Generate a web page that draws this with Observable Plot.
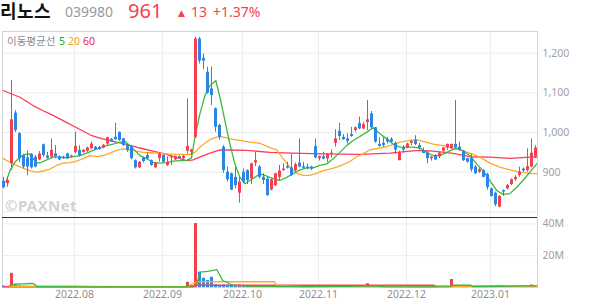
<!DOCTYPE html>
<html><head><meta charset="utf-8">
<script src="https://cdn.jsdelivr.net/npm/d3@7"></script>
<script src="https://cdn.jsdelivr.net/npm/@observablehq/plot@0.6"></script>
<style>
body{margin:0;background:#fff;}
#wrap{position:relative;width:594px;height:304px;overflow:hidden;font-family:"Noto Sans","Noto Sans CJK KR",sans-serif;}
#price,#vol,#over{position:absolute;left:0;}
#price{top:31px}
#vol{top:217px}
#over{top:0;pointer-events:none}
</style></head><body>
<div id="wrap"><div id="price"></div><div id="vol"></div><svg id="over" width="594" height="304"></svg></div>
<script>
// ---- data (index = trading day, 2022-07-06 .. 2023-01-17) ----
const open  = [877,871,921,1049,997,942,936,945,938,931,969,941,938,946,939,938,946,938,950,955,950,953,959,963,963,961,971,983,988,1000,984,967,965,929,911,935,942,929,911,934,942,917,936,931,939,934,953,950,988,1236,1187,1152,1110,1060,1018,963,900,896,887,847,900,904,883,923,913,887,883,855,866,887,904,914,911,904,923,914,913,913,965,934,939,934,945,973,1003,988,984,995,1005,1023,1009,1025,1047,1012,970,973,982,983,973,929,961,961,973,980,967,953,948,934,942,939,953,961,959,970,963,953,934,935,913,900,904,894,858,847,812,854,858,869,881,892,908,904,913,938];
const high  = [887,887,1131,1055,1000,945,953,947,942,952,971,950,984,967,941,940,948,943,1001,967,957,963,976,965,965,970,988,985,1023,1002,986,971,967,931,927,938,950,931,925,948,944,939,941,941,941,942,1085,958,1240,1240,1198,1165,1165,1062,1020,967,913,898,913,887,908,906,923,950,917,896,887,883,897,917,921,925,945,923,984,925,921,915,984,941,950,947,956,1007,1023,995,997,1013,1014,1039,1026,1081,1053,1013,987,987,988,987,976,953,967,973,980,992,973,961,953,940,944,950,963,971,971,1081,976,955,936,945,917,911,906,897,860,850,841,855,869,883,891,913,911,959,984,967];
const low   = [858,862,904,1000,925,908,891,908,911,929,938,933,934,934,929,932,932,936,946,938,948,950,957,955,955,959,967,975,980,978,965,950,931,908,909,923,931,915,909,925,923,914,917,929,932,932,946,942,985,1173,1158,1097,1068,1001,980,897,875,854,858,822,871,869,869,914,883,869,839,853,864,879,902,908,889,900,911,908,906,904,934,928,931,925,936,963,980,980,971,988,1001,1007,1007,1005,1007,973,963,963,971,973,945,929,948,959,967,967,956,947,921,928,929,934,950,955,957,959,953,927,923,900,894,897,886,855,837,813,810,839,855,866,877,887,900,900,911,934];
const close = [861,879,1032,1005,934,913,913,911,913,946,942,935,955,938,931,934,934,941,965,942,955,961,971,957,957,968,987,977,982,980,967,955,934,911,925,927,934,917,923,945,925,925,939,939,934,940,965,956,1236,1180,1180,1099,1093,1013,988,904,881,855,866,875,875,879,921,929,887,879,841,881,896,903,908,910,892,919,913,910,909,908,936,939,933,945,948,984,990,982,978,990,1012,1009,1020,1032,1012,976,965,967,976,976,956,948,956,971,977,970,961,947,934,938,931,948,961,970,970,961,955,929,925,906,896,906,887,861,839,818,839,850,866,881,887,900,903,914,948,961];
const volumeM = [0.9,0.7,8.9,2.0,1.2,0.8,0.7,0.6,0.5,0.5,0.6,0.4,0.6,0.5,0.4,0.3,0.4,0.3,0.7,0.4,0.3,0.4,0.5,0.3,0.3,0.3,0.5,0.3,0.6,0.5,0.4,0.4,0.6,0.5,0.4,0.3,0.3,0.3,0.3,0.4,0.3,0.3,0.3,0.3,0.3,0.3,3.3,1.0,40.2,9.6,5.8,4.4,6.4,1.7,1.4,1.6,1.4,1.3,1.2,1.5,0.9,0.7,1.0,0.9,0.6,0.5,0.7,0.6,0.6,0.5,0.4,0.3,0.5,0.4,1.0,0.4,0.3,0.3,0.8,0.4,0.3,0.4,0.5,1.2,0.9,0.5,0.4,0.5,0.5,0.6,0.7,2.4,1.0,0.7,0.5,0.4,0.4,0.3,0.5,0.6,0.4,0.5,0.4,0.4,0.3,0.3,0.5,0.3,0.3,0.4,0.5,0.5,5.0,1.2,0.5,0.6,0.4,0.6,0.5,0.4,0.5,0.7,0.8,0.9,1.0,0.5,0.5,0.6,0.5,0.7,0.4,0.9,1.6,1.2];

// moving averages: [day index, value]
const ma5 = [[0.6,875],[1.6,904],[2.85,925],[4.1,938],[5.35,945],[6.6,946],[7.4,934],[8.3,923],[9.5,925],[10.8,931],[12.4,938],[14.1,938],[15.8,936],[17.4,939],[19.1,942],[20.8,948],[22.4,955],[24.1,961],[25.8,967],[27.4,971],[29.1,976],[30.35,978],[31.6,967],[32.85,955],[34.1,942],[35.8,934],[37.4,925],[39.1,923],[40.8,924],[42.4,928],[44.1,929],[45.8,930],[47,936],[47.85,988],[49.1,1047],[50.35,1093],[51.6,1118],[53.1,1131],[54.1,1089],[55.35,1030],[56.6,971],[57.85,921],[59.1,887],[60.35,871],[61.6,879],[62.85,887],[64.1,896],[65.35,892],[66.6,887],[69.1,879],[70.8,887],[72.4,896],[74.1,906],[75.8,911],[77.4,911],[79.1,917],[80.8,921],[82.4,934],[84.1,950],[85.8,967],[87.4,980],[89.1,990],[90.8,1001],[92.4,1012],[94.1,997],[95.8,984],[97.4,971],[99.1,963],[100.8,963],[102.4,963],[104.1,961],[105.8,950],[107.4,942],[109.1,942],[110.8,950],[111.8,955],[113.7,961],[114.9,953],[116.6,942],[118.3,921],[119.9,904],[121.6,879],[123.3,854],[124.9,844],[126.6,846],[128.3,862],[129.9,879],[131.6,900],[133.3,921]];
const ma20 = [[-0.1,935],[1.6,925],[3.3,917],[4.9,910],[6.6,904],[8.3,900],[9.9,903],[11.6,908],[13.3,917],[14.9,923],[16.6,924],[18.3,928],[19.9,934],[21.6,942],[23.3,939],[24.9,942],[26.6,948],[28.3,955],[29.9,959],[31.6,956],[33.3,953],[34.9,950],[36.6,949],[38.3,948],[40.8,946],[43.3,945],[46.6,945],[47.85,950],[49.1,963],[50.35,973],[51.6,982],[52.85,987],[54.1,990],[55.35,988],[56.6,984],[59.1,980],[61.6,976],[64.1,973],[66.6,962],[68.3,956],[69.9,934],[71.6,913],[73.3,897],[74.9,892],[76.6,892],[78.3,897],[79.9,904],[81.6,908],[83.3,913],[84.9,919],[86.6,927],[88.3,939],[89.6,945],[91.6,956],[94.1,961],[96.6,967],[99.1,976],[101.6,980],[103.3,982],[104.9,978],[107.4,971],[109.9,967],[112.1,962],[114.1,956],[116.6,948],[119.1,938],[121.6,923],[124.1,913],[126.6,906],[129.1,900],[131.6,897],[133.4,896]];
const ma60 = [[-0.1,1106],[4.1,1089],[7.4,1068],[9.9,1055],[11.6,1047],[14.9,1030],[18.3,1012],[22.1,992],[24.1,986],[27.4,978],[30.8,970],[34.1,961],[37.4,953],[40.8,945],[44.1,934],[45.8,929],[47.4,931],[49.1,938],[51.6,948],[54.1,956],[56.6,956],[60.8,955],[66.6,950],[72,948],[80,946],[89.1,945],[96.6,948],[101.6,953],[104.1,955],[107.4,953],[112,948],[116.6,939],[121.6,938],[126.6,935],[131.6,938],[133.4,938]];
const volMa5 = [[1.6,1.4],[3,2.1],[5,2.3],[6.6,2.5],[7.6,2.4],[8.3,0.6],[12,0.5],[20,0.45],[30,0.45],[40,0.4],[45.5,0.4],[46.5,1.0],[47.5,1.1],[48.3,1.5],[49.1,9.6],[51,10.2],[52.4,10.8],[53.3,11.3],[54.8,4.4],[57.4,1.4],[61.6,0.9],[66,0.7],[75,0.5],[83,0.7],[86,0.7],[92,1.0],[95,0.6],[105,0.4],[111.8,0.5],[112.3,1.4],[116.8,1.4],[117.3,0.6],[125,0.8],[133,1.0]];
const volMa20 = [[1.6,0.8],[20,0.8],[22.4,0.7],[30,0.5],[46,0.5],[48.3,3.6],[67.8,3.6],[68.3,1.1],[75,0.6],[90,0.6],[92,0.7],[108,0.5],[112.3,0.8],[131,0.8],[133.4,0.8]];
const volMa60 = [[-0.1,0.4],[47.5,0.4],[48.3,1.4],[107.5,1.4],[108.3,0.8],[133.4,0.8]];

const monthStart = [18,40,60,79,101,122];
const monthLabels = ["2022.08","2022.09","2022.10","2022.11","2022.12","2023.01"];
const priceTicks = [900,1000,1100,1200];
const priceGrid = [800,900,1000,1100,1200];
const volTicks = [20e6,40e6];

// ---- styling ----
const RED = "#f5404f", BLUE = "#2b87e3";
const C5 = "#3cb83c", C20 = "#ffa928", C60 = "#ff3a5c";
const GRID = "#ececec";
const FONT = "'Noto Sans', 'Noto Sans CJK KR', sans-serif";

const rows = close.map((c,i)=>({i, o:open[i], h:high[i], l:low[i], c, v:volumeM[i]*1e6}));
const col = d => d.c >= d.o ? RED : BLUE;
const xDomain = [-0.25, 133.5];
const gridPos = monthStart.map(d => d - 0.25);
const labelMap = new Map(gridPos.map((p,k)=>[p, monthLabels[k]]));
const pts = (arr, k=1) => arr.map(([x,y]) => ({x, y:y*k}));

const price = Plot.plot({
  width: 594, height: 186, marginLeft: 2, marginRight: 57, marginTop: 0, marginBottom: 0,
  x: {domain: xDomain, axis: null},
  y: {domain: [785.8, 1254.7], axis: null},
  style: {background: "transparent", fontFamily: FONT, fontSize: "10.5px", overflow: "visible"},
  marks: [
    Plot.gridX(gridPos, {stroke: GRID, strokeOpacity: 1}),
    Plot.gridY(priceGrid, {stroke: GRID, strokeOpacity: 1}),
    Plot.frame({stroke: "#d4d4d4"}),
    Plot.axisY(priceTicks, {anchor: "right", tickSize: 0, tickPadding: 5, tickFormat: d3.format(","), color: "#a0a0a0", fontSize: 10.5}),
    Plot.line(pts(ma60), {x: "x", y: "y", stroke: C60, strokeWidth: 1.3}),
    Plot.line(pts(ma20), {x: "x", y: "y", stroke: C20, strokeWidth: 1.3}),
    Plot.line(pts(ma5), {x: "x", y: "y", stroke: C5, strokeWidth: 1.3}),
    Plot.ruleX(rows, {x: "i", y1: "l", y2: "h", stroke: col, strokeWidth: 1}),
    Plot.ruleX(rows, {x: "i", y1: "o", y2: "c", stroke: col, strokeWidth: 3})
  ]
});
document.getElementById("price").append(price);

const vol = Plot.plot({
  width: 594, height: 87, marginLeft: 2, marginRight: 57, marginTop: 0, marginBottom: 17,
  x: {domain: xDomain, axis: null},
  y: {domain: [0, 44e6], axis: null},
  style: {background: "transparent", fontFamily: FONT, fontSize: "10.5px", overflow: "visible"},
  marks: [
    Plot.gridX(gridPos, {stroke: GRID, strokeOpacity: 1}),
    Plot.gridY(volTicks, {stroke: GRID, strokeOpacity: 1}),
    Plot.frame({stroke: "#d4d4d4"}),
    Plot.axisY(volTicks, {anchor: "right", tickSize: 0, tickPadding: 5, tickFormat: d => d/1e6 + "M", color: "#a0a0a0", fontSize: 10.5}),
    Plot.axisX(gridPos, {anchor: "bottom", tickSize: 0, tickPadding: 3, tickFormat: d => labelMap.get(d), color: "#909090", fontSize: 10.5}),
    Plot.ruleX(rows, {x: "i", y1: 0, y2: "v", stroke: col, strokeWidth: 3}),
    Plot.line(pts(volMa60, 1e6), {x: "x", y: "y", stroke: C60, strokeWidth: 1.3}),
    Plot.line(pts(volMa20, 1e6), {x: "x", y: "y", stroke: C20, strokeWidth: 1.3}),
    Plot.line(pts(volMa5, 1e6), {x: "x", y: "y", stroke: C5, strokeWidth: 1.3}),
    Plot.ruleY([44e6], {stroke: "#333", strokeWidth: 1.2})
  ]
});
document.getElementById("vol").append(vol);

// ---- header, legend, watermark ----
const over = d3.select("#over");
function txt(x, y, s, o) {
  const t = over.append("text").attr("x", x).attr("y", y).text(s)
    .attr("font-family", o.ff || FONT).attr("font-size", o.fs).attr("fill", o.fill);
  if (o.fw) t.attr("font-weight", o.fw);
  if (o.ls) t.attr("letter-spacing", o.ls);
  return t;
}
const KR = "'Noto Sans CJK KR', sans-serif";
txt(0, 17.5, "리노스", {fs: 18, fill: "#111", fw: "bold", ff: KR, ls: 0.5});
txt(65, 17, "039980", {fs: 14, fill: "#999"});
txt(128, 17.5, "961", {fs: 20, fill: RED});
txt(178, 15.5, "▲", {fs: 9, fill: RED, ff: "DejaVu Sans"});
txt(191, 17, "13", {fs: 14, fill: RED});
txt(213, 17, "+1.37%", {fs: 14, fill: RED});
txt(7, 45, "이동평균선", {fs: 10.5, fill: "#8a8a8a", ff: KR});
txt(59, 45, "5", {fs: 10.5, fill: "#22aa22"});
txt(68, 45, "20", {fs: 10.5, fill: "#f7a21b"});
txt(83, 45, "60", {fs: 10.5, fill: "#ee1c5c"});
txt(5, 211, "©PAXNet", {fs: 15, fill: "#d2d2d2", fw: "bold", ls: 0.4});
</script>
</body></html>
